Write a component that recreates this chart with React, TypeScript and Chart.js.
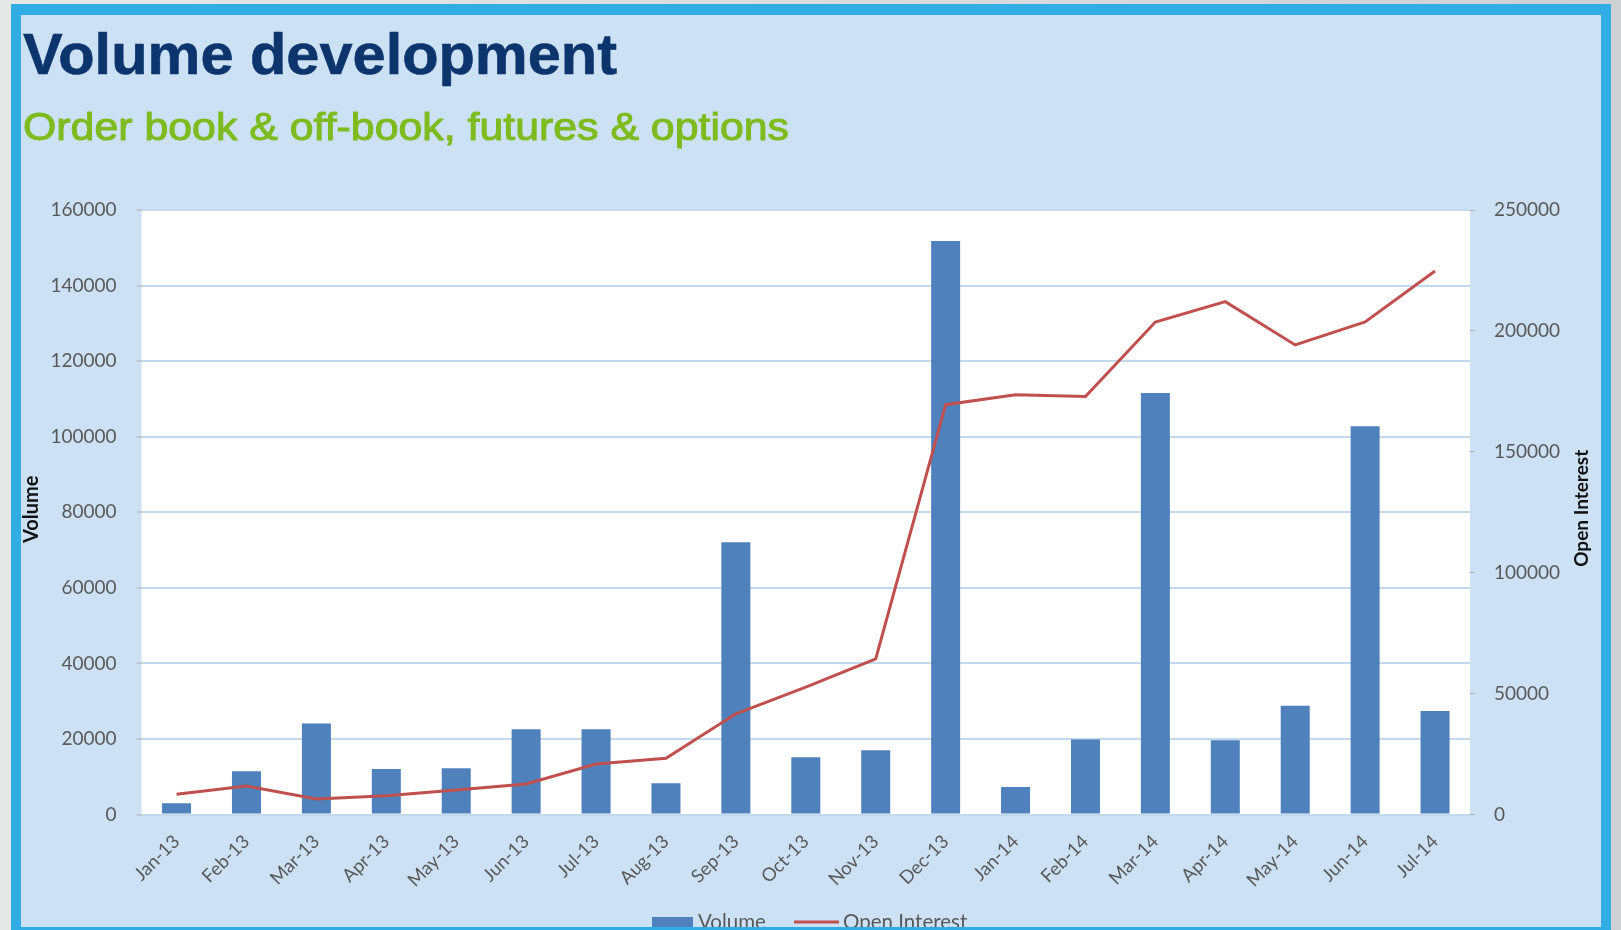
import React, { useEffect, useRef } from 'react';
import { Chart, registerables } from 'chart.js';

Chart.register(...registerables);

const chartTitle = 'Volume development';
const chartSubtitle = 'Order book & off-book, futures & options';
const volumeAxisTitle = 'Volume';
const oiAxisTitle = 'Open Interest';

const categories = [
  'Jan-13', 'Feb-13', 'Mar-13', 'Apr-13', 'May-13', 'Jun-13', 'Jul-13', 'Aug-13', 'Sep-13',
  'Oct-13', 'Nov-13', 'Dec-13', 'Jan-14', 'Feb-14', 'Mar-14', 'Apr-14', 'May-14', 'Jun-14', 'Jul-14',
];

const volume = [
  3000, 11500, 24100, 12100, 12250, 22600, 22600, 8300, 72100,
  15150, 17000, 151800, 7300, 19900, 111600, 19700, 28800, 102800, 27400,
];

const openInterest = [
  8400, 11800, 6450, 7800, 10150, 12650, 20900, 23300, 41700,
  52700, 64400, 169500, 173600, 172900, 203700, 212100, 194200, 203700, 224800,
];

const volumeTicks = [0, 20000, 40000, 60000, 80000, 100000, 120000, 140000, 160000];
const oiTicks = [0, 50000, 100000, 150000, 200000, 250000];

const BAR_COLOR = '#4F81BD';
const LINE_COLOR = '#C0504D';
const TICK_COLOR = '#595959';
const TICK_FONT = 'Lato';

function drawStretched(
  ctx: CanvasRenderingContext2D, text: string, x: number, y: number,
  font: string, color: string, targetWidth: number, strokeW: number,
) {
  ctx.save();
  ctx.font = font;
  ctx.fillStyle = color;
  ctx.strokeStyle = color;
  ctx.textAlign = 'left';
  ctx.textBaseline = 'alphabetic';
  const w = ctx.measureText(text).width;
  ctx.translate(x, y);
  ctx.scale(targetWidth / w, 1);
  ctx.fillText(text, 0, 0);
  if (strokeW > 0) {
    ctx.lineWidth = strokeW;
    ctx.lineJoin = 'round';
    ctx.strokeText(text, 0, 0);
  }
  ctx.restore();
}

const decorPlugin = {
  id: 'decor',
  beforeDraw(chart: any) {
    const { ctx, chartArea: a } = chart;
    ctx.save();
    ctx.fillStyle = '#FFFFFF';
    ctx.fillRect(a.left, a.top, a.right - a.left, a.bottom - a.top);
    ctx.restore();
  },
  afterDraw(chart: any) {
    const { ctx, chartArea: a } = chart;
    drawStretched(ctx, chartTitle, 2, 59, 'bold 57px "Liberation Sans", Arial, sans-serif', '#0C356E', 594, 0.6);
    drawStretched(ctx, chartSubtitle, 2, 125, '38px "Liberation Sans", Arial, sans-serif', '#7DBB1F', 766, 1);

    const midY = (a.top + a.bottom) / 2;
    ctx.save();
    ctx.fillStyle = '#111111';
    ctx.font = `bold 20px ${TICK_FONT}`;
    ctx.textAlign = 'center';
    ctx.textBaseline = 'middle';
    ctx.translate(11, midY - 3);
    ctx.rotate(-Math.PI / 2);
    ctx.fillText(volumeAxisTitle, 0, 0);
    ctx.restore();

    ctx.save();
    ctx.fillStyle = '#111111';
    ctx.font = `bold 19px ${TICK_FONT}`;
    ctx.textAlign = 'center';
    ctx.textBaseline = 'middle';
    ctx.translate(1561, midY - 4);
    ctx.rotate(-Math.PI / 2);
    ctx.fillText(oiAxisTitle, 0, 0);
    ctx.restore();

    // Legend
    const ly = 907;
    ctx.save();
    ctx.fillStyle = BAR_COLOR;
    ctx.fillRect(631, ly - 5, 41, 10);
    ctx.strokeStyle = LINE_COLOR;
    ctx.lineWidth = 3;
    ctx.beginPath();
    ctx.moveTo(773, ly);
    ctx.lineTo(818, ly);
    ctx.stroke();
    ctx.fillStyle = TICK_COLOR;
    ctx.font = `20.5px ${TICK_FONT}`;
    ctx.textAlign = 'left';
    ctx.textBaseline = 'middle';
    ctx.fillText(chart.data.datasets[0].label, 677, ly);
    ctx.fillText(chart.data.datasets[1].label, 822, ly);
    ctx.restore();
  },
};

export default function App() {
  const ref = useRef<HTMLCanvasElement>(null);

  useEffect(() => {
    if (!ref.current) return;
    const chart = new Chart(ref.current, {
      type: 'bar',
      data: {
        labels: categories,
        datasets: [
          {
            type: 'bar',
            label: 'Volume',
            data: volume,
            backgroundColor: BAR_COLOR,
            yAxisID: 'y',
            barPercentage: 0.415,
            categoryPercentage: 1,
            order: 2,
          },
          {
            type: 'line',
            label: 'Open Interest',
            data: openInterest,
            borderColor: LINE_COLOR,
            borderWidth: 3,
            pointRadius: 0,
            tension: 0,
            fill: false,
            yAxisID: 'y1',
            order: 1,
          },
        ],
      } as any,
      options: {
        responsive: false,
        animation: false,
        devicePixelRatio: 1,
        layout: { padding: { top: 195, left: 0, right: 0, bottom: 0 } },
        plugins: {
          legend: { display: false },
          tooltip: { enabled: false },
          title: { display: false },
        },
        scales: {
          x: {
            type: 'category',
            offset: true,
            grid: { display: false },
            border: { display: false },
            ticks: {
              color: TICK_COLOR,
              font: { family: TICK_FONT, size: 18.5 },
              maxRotation: 45,
              minRotation: 45,
              autoSkip: false,
              padding: 8,
            },
            afterFit: (s: any) => { s.height = 112.4; },
          },
          y: {
            position: 'left',
            min: 0,
            max: 160000,
            border: { display: false },
            grid: { color: '#C3D9EE', lineWidth: 2, tickLength: 5, tickColor: '#B0B0B0', tickWidth: 1 },
            ticks: {
              color: TICK_COLOR,
              font: { family: TICK_FONT, size: 19 },
              padding: 20,
              callback: (v: any) => String(v),
            },
            afterBuildTicks: (s: any) => { s.ticks = volumeTicks.map((v) => ({ value: v })); },
            afterFit: (s: any) => { s.width = 120.6; },
          },
          y1: {
            position: 'right',
            min: 0,
            max: 250000,
            border: { display: false },
            grid: { drawOnChartArea: false, tickLength: 5, tickColor: '#B0B0B0', tickWidth: 1 },
            ticks: {
              color: TICK_COLOR,
              font: { family: TICK_FONT, size: 19 },
              padding: 19,
              callback: (v: any) => String(v),
            },
            afterBuildTicks: (s: any) => { s.ticks = oiTicks.map((v) => ({ value: v })); },
            afterFit: (s: any) => { s.width = 131; },
          },
        },
      } as any,
      plugins: [decorPlugin],
    });
    return () => chart.destroy();
  }, []);

  return (
    <div
      style={{
        position: 'fixed',
        left: 0,
        top: 0,
        width: 1621,
        height: 930,
        overflow: 'hidden',
        background: 'linear-gradient(90deg, #E6E8E8 0%, #DADDDE 50%, #CDD1D3 100%)',
      }}
    >
      <div
        style={{
          position: 'absolute',
          left: 11,
          top: 4,
          width: 1600,
          height: 933,
          boxSizing: 'border-box',
          borderStyle: 'solid',
          borderColor: '#31ADE6',
          borderWidth: '11px 10px 10px 10px',
          background: '#CDE1F4',
          overflow: 'hidden',
        }}
      >
        <canvas ref={ref} width={1580} height={912} style={{ display: 'block', width: 1580, height: 912 }} />
      </div>
    </div>
  );
}
